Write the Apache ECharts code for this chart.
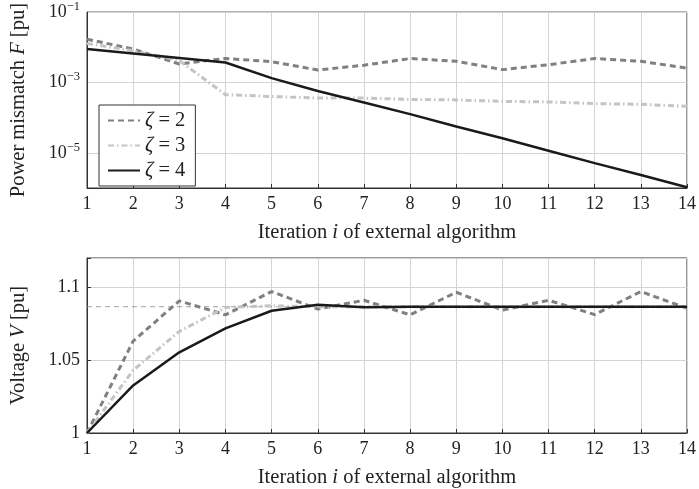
<!DOCTYPE html>
<html>
<head>
<meta charset="utf-8">
<script src="https://cdn.jsdelivr.net/npm/echarts@6/dist/echarts.min.js"></script>
<style>html,body{margin:0;padding:0;background:#fff}#c{width:699px;height:489px}</style>
</head>
<body>
<div id="c"></div>
<script>
const iterations = [1, 2, 3, 4, 5, 6, 7, 8, 9, 10, 11, 12, 13, 14];
const seriesNames = ['ζ = 2', 'ζ = 3', 'ζ = 4'];
// Power mismatch F [pu]
const mismatch2 = [0.0170, 0.0089, 0.00336, 0.00484, 0.0039, 0.00226, 0.0031, 0.0048, 0.0040, 0.00232, 0.0032, 0.0048, 0.0040, 0.00256];
const mismatch3 = [0.0129, 0.0080, 0.0042, 0.00045, 0.00040, 0.00036, 0.00036, 0.00033, 0.00032, 0.00029, 0.00028, 0.00025, 0.00024, 0.00021];
const mismatch4 = [0.0089, 0.0067, 0.0050, 0.0037, 0.00133, 0.00057, 0.00027, 0.000126, 0.000056, 0.000026, 0.0000115, 0.0000051, 0.00000235, 0.00000105];
// Voltage V [pu]
const voltage2 = [1.000, 1.063, 1.0906, 1.081, 1.097, 1.085, 1.091, 1.081, 1.0965, 1.0843, 1.091, 1.0812, 1.097, 1.0855];
const voltage3 = [1.000, 1.043, 1.0697, 1.0861, 1.0872, 1.0866, 1.0866, 1.0866, 1.0866, 1.0866, 1.0866, 1.0866, 1.0866, 1.0866];
const voltage4 = [1.000, 1.0326, 1.0553, 1.0717, 1.0838, 1.0879, 1.0862, 1.0866, 1.0866, 1.0866, 1.0866, 1.0866, 1.0866, 1.0866];
const refVoltage = 1.0866;
const yLogTicks = [-1, -3, -5];
const yLinTicks = [1, 1.05, 1.1];

const FONT = 'Liberation Serif';
const TXT = '#222';
const toPairs = (ys) => iterations.map((x, i) => [x, ys[i]]);
const styles = [
  { color: '#808080', width: 3, type: [6, 4] },
  { color: '#c4c4c4', width: 3, type: [6, 3, 1.5, 3] },
  { color: '#1a1a1a', width: 2.5, type: 'solid' }
];
const frame = '#333';
const gridC = '#d4d4d4';
const nameStyle = {
  fontFamily: FONT, fontSize: 20.5, color: TXT,
  rich: { i: { fontFamily: FONT, fontStyle: 'italic', fontSize: 20.5, color: TXT } }
};

function xAxis(gridIndex) {
  return {
    type: 'value', gridIndex, min: 1, max: 14, interval: 1,
    name: 'Iteration {i|i} of external algorithm', nameLocation: 'middle', nameGap: 34,
    nameTextStyle: nameStyle,
    axisLine: { show: true, lineStyle: { color: frame, width: 1 } },
    axisTick: { show: true, inside: true, length: 4, lineStyle: { color: frame } },
    axisLabel: { fontFamily: FONT, fontSize: 18, color: TXT, margin: 7 },
    splitLine: { show: true, lineStyle: { color: gridC, width: 1 } }
  };
}

const option = {
  animation: false,
  backgroundColor: '#fff',
  grid: [
    { left: 81, right: 10, top: 10, height: 178, show: true, borderColor: frame, borderWidth: 1 },
    { left: 81, right: 10, top: 258, height: 178, show: true, borderColor: frame, borderWidth: 1 }
  ],
  xAxis: [xAxis(0), xAxis(1)],
  yAxis: [
    {
      type: 'log', gridIndex: 0, logBase: 10, min: 1e-6, max: 1e-1, splitNumber: 5,
      name: 'Power mismatch {i|F} [pu]', nameLocation: 'middle', nameGap: 58,
      nameTextStyle: nameStyle,
      axisLine: { show: true, lineStyle: { color: frame } },
      axisTick: { show: false },
      axisLabel: {
        margin: 7, color: TXT,
        formatter: (v) => {
          const e = Math.round(Math.log10(v));
          return yLogTicks.indexOf(e) >= 0 ? '{b|10}{s|−' + Math.abs(e) + '}' : '';
        },
        rich: {
          b: { fontFamily: FONT, fontSize: 18, color: TXT },
          s: { fontFamily: FONT, fontSize: 12.5, color: TXT, padding: [0, 0, 11, 0] }
        }
      },
      splitLine: { show: true, lineStyle: { color: ['rgba(0,0,0,0)', gridC], width: 1 } }
    },
    {
      type: 'value', gridIndex: 1, min: 1, max: 1.12, interval: 0.05,
      name: 'Voltage {i|V} [pu]', nameLocation: 'middle', nameGap: 58,
      nameTextStyle: nameStyle,
      axisLine: { show: true, lineStyle: { color: frame } },
      axisTick: { show: true, inside: true, length: 4, lineStyle: { color: frame } },
      axisLabel: {
        fontFamily: FONT, fontSize: 18, color: TXT, margin: 7,
        formatter: (v) => {
          const hit = yLinTicks.find(t => Math.abs(t - v) < 1e-6);
          return hit === undefined ? '' : String(hit);
        }
      },
      splitLine: { show: true, lineStyle: { color: gridC, width: 1 } }
    }
  ],
  legend: {
    data: seriesNames,
    orient: 'vertical', left: 99, top: 105,
    backgroundColor: '#fff', borderColor: frame, borderWidth: 1,
    padding: [5, 10, 5, 8], itemGap: 4, itemWidth: 32, itemHeight: 14,
    itemStyle: { color: 'rgba(0,0,0,0)', borderWidth: 0, opacity: 0 },
    formatter: (n) => '{i|ζ}' + n.slice(1),
    textStyle: {
      fontFamily: FONT, fontSize: 20.5, color: TXT, lineHeight: 20,
      rich: { i: { fontFamily: FONT, fontStyle: 'italic', fontSize: 20.5, color: TXT, lineHeight: 20 } }
    }
  },
  series: [
    ...[mismatch2, mismatch3, mismatch4].map((d, k) => ({
      type: 'line', name: seriesNames[k], xAxisIndex: 0, yAxisIndex: 0, data: toPairs(d),
      symbol: 'none', lineStyle: styles[k], itemStyle: { color: styles[k].color }, z: 3
    })),
    {
      type: 'line', name: 'reference', xAxisIndex: 1, yAxisIndex: 1, z: 1, silent: true,
      data: [[iterations[0], refVoltage], [iterations[iterations.length - 1], refVoltage]],
      symbol: 'none', lineStyle: { color: '#888', width: 0.8, type: [5, 4] }
    },
    ...[voltage2, voltage3, voltage4].map((d, k) => ({
      type: 'line', name: seriesNames[k], xAxisIndex: 1, yAxisIndex: 1, data: toPairs(d),
      symbol: 'none', lineStyle: styles[k], itemStyle: { color: styles[k].color }, z: 3
    }))
  ]
};
const chart = echarts.init(document.getElementById('c'), null, { renderer: 'canvas' });
chart.setOption(option);
</script>
</body>
</html>
